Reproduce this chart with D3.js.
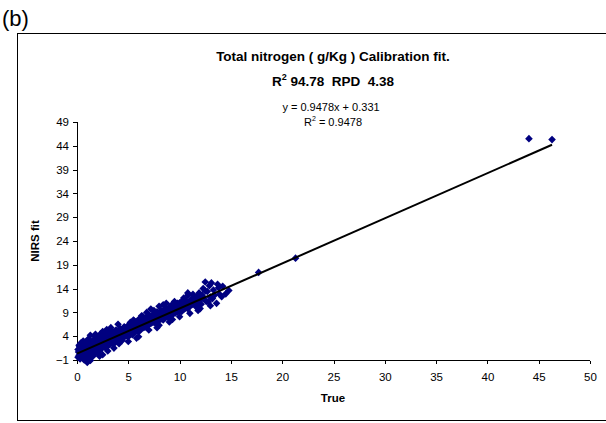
<!DOCTYPE html>
<html>
<head>
<meta charset="utf-8">
<script src="https://cdn.jsdelivr.net/npm/d3@7"></script>
<style>
  html, body { margin: 0; padding: 0; background: #fff; }
  svg { display: block; font-family: "Liberation Sans", Arial, sans-serif; }
  text { white-space: pre; }
</style>
</head>
<body>
<svg id="chart" width="606" height="423"></svg>
<script>
// Total nitrogen (g/Kg): reference values vs. NIRS calibration predictions
const trueVals = [
  0.1,0.1,0.2,0.2,0.3,0.3,0.4,0.4,0.5,0.5,0.6,0.6,0.7,0.7,0.8,0.8,0.9,0.9,1.0,1.0,
  1.1,1.1,1.2,1.2,1.3,1.3,1.4,1.4,1.5,1.5,1.6,1.6,1.7,1.7,1.8,1.8,1.9,1.9,2.0,2.0,
  2.1,2.1,2.2,2.2,2.3,2.3,2.4,2.4,2.5,2.5,2.6,2.6,2.7,2.7,2.8,2.8,2.9,2.9,3.0,3.0,
  3.1,3.2,3.2,3.3,3.4,3.4,3.5,3.6,3.6,3.7,3.8,3.8,3.9,4.0,4.0,4.1,4.2,4.2,4.3,4.4,
  4.4,4.5,4.6,4.6,4.7,4.8,4.8,4.9,5.0,5.0,5.1,5.2,5.2,5.3,5.4,5.4,5.5,5.6,5.6,5.7,
  5.8,5.8,5.9,6.0,6.0,6.1,6.2,6.2,6.3,6.4,6.4,6.5,6.6,6.6,6.7,6.8,6.8,6.9,7.0,7.0,
  7.1,7.2,7.2,7.3,7.4,7.4,7.5,7.6,7.6,7.7,7.8,7.8,7.9,8.0,8.0,8.1,8.2,8.2,8.3,8.4,
  8.4,8.5,8.6,8.6,8.7,8.8,8.8,8.9,9.0,9.0,9.1,9.2,9.2,9.3,9.4,9.4,9.5,9.6,9.6,9.7,
  9.8,9.8,9.9,10.0,10.0,10.1,10.2,10.2,10.3,10.4,10.5,10.6,10.6,10.7,10.8,10.8,10.9,11.0,11.1,11.2,
  11.3,11.4,11.5,11.6,11.7,11.8,11.9,12.0,12.1,12.2,12.3,12.4,12.5,12.6,12.7,12.8,12.9,13.0,13.1,13.2,
  13.3,13.4,13.6,13.7,13.8,13.9,14.1,14.2,14.5,14.8,
  0.15,0.25,0.35,0.45,0.55,0.65,0.75,0.85,0.95,1.05,1.15,1.25,1.35,1.45,1.55,1.65,1.75,1.85,1.95,2.05,
  2.15,2.35,2.45,2.65,2.85,3.05,3.15,3.35,3.55,3.75,3.95,4.15,4.35,4.55,4.75,4.95,5.15,5.35,5.55,5.75,
  5.95,6.15,6.35,6.55,6.75,6.95,7.15,7.35,7.55,7.75,7.95,8.15,8.35,8.55,8.75,8.95,9.15,9.35,9.55,9.75,
  9.95,10.15,10.35,10.55,10.75,11.05,11.25,11.45,11.65,11.95,
  1.0,1.3,2.2,3.0,3.3,4.1,5.0,5.5,6.0,6.3,7.0,7.5,8.0,8.7,9.0,9.5,10.0,10.4,11.0,11.3,
  12.0,12.5,2.5,3.6,5.8,6.8,7.8,8.4,9.3,10.8,11.8,13.0,1.8,2.9,
  17.7,21.3,44.05,46.3
];
const nirsVals = [
  1.2,-0.4,2.1,0.0,1.6,-0.8,0.9,2.6,-0.2,1.4,3.0,0.5,-1.0,2.2,1.0,-0.5,2.8,0.2,1.7,-1.3,
  0.6,3.4,-0.7,2.0,1.1,4.2,0.0,2.6,1.5,-0.3,3.1,0.8,2.2,4.0,0.4,1.9,3.3,1.0,2.5,0.6,
  3.8,1.6,2.9,0.9,2.1,4.5,1.4,3.4,2.3,5.0,1.8,3.0,4.1,2.1,1.5,3.6,2.7,4.9,2.0,3.9,
  3.0,2.2,4.4,3.4,2.6,5.1,3.7,2.4,4.6,3.3,5.3,2.9,4.0,3.2,6.5,4.8,3.5,5.6,4.3,3.1,
  5.0,4.6,3.8,6.0,5.2,4.1,5.8,4.7,3.9,6.3,5.4,4.4,6.9,5.0,6.1,4.3,5.7,4.8,7.2,6.0,
  5.1,6.6,5.6,4.9,7.5,6.2,5.4,7.0,6.6,5.7,8.2,6.4,5.9,7.6,6.9,6.1,8.0,7.3,6.4,8.5,
  7.1,9.7,6.7,7.8,6.9,8.6,7.4,6.8,8.3,7.7,7.0,9.1,8.0,10.3,7.3,8.6,7.6,9.4,8.2,7.4,
  9.0,8.5,7.9,9.8,8.8,8.1,9.5,9.1,8.0,10.1,9.3,8.4,10.5,9.6,8.7,10.2,9.2,10.8,8.9,9.8,
  9.1,10.9,10.2,9.3,11.0,10.0,9.2,11.3,10.5,9.6,10.8,9.9,11.6,10.4,12.6,9.8,11.1,10.3,11.7,10.6,
  12.0,10.9,11.4,10.2,12.3,11.0,13.1,11.5,10.7,12.6,14.0,11.8,15.4,11.3,13.4,11.2,14.6,12.2,15.2,11.9,
  13.7,12.6,10.9,14.9,14.2,12.8,12.3,14.5,12.9,13.6,
  0.7,1.9,-0.1,2.4,0.3,1.2,2.7,-0.2,1.3,2.4,0.1,1.6,3.0,0.7,2.1,1.2,3.2,1.4,2.2,1.1,
  2.6,3.0,1.9,2.6,2.4,3.3,2.6,4.0,3.1,4.2,3.6,4.2,5.3,4.0,4.6,5.5,4.8,5.6,6.3,5.4,
  6.4,5.8,7.2,6.9,6.5,7.7,7.5,7.2,8.0,8.4,7.6,8.0,8.9,8.2,9.2,8.6,9.0,9.9,9.5,10.4,
  9.7,10.5,9.9,11.2,11.0,11.4,11.0,12.0,11.3,12.0,
  -1.5,-1.1,-0.2,0.9,5.8,2.4,2.9,7.4,3.9,8.3,5.3,9.4,6.3,10.9,7.0,11.3,8.1,12.0,8.8,12.8,
  9.8,13.5,0.1,1.5,3.6,9.0,5.8,10.6,7.5,13.1,9.4,10.4,4.4,5.4,
  17.4,20.4,45.5,45.3
];

// Fitted calibration line
const slope = 0.9478;
const intercept = 0.331;
const rSquared = 0.9478;

// Axis ticks
const xTicks = [0, 5, 10, 15, 20, 25, 30, 35, 40, 45, 50];
const yTicks = [-1, 4, 9, 14, 19, 24, 29, 34, 39, 44, 49];

const svg = d3.select("#chart");

const x = d3.scaleLinear().domain([0, 50]).range([77, 590]);
const y = d3.scaleLinear().domain([-1, 49]).range([360, 122]);

// Panel label
svg.append("text").attr("x", 2).attr("y", 26)
  .attr("font-size", 22).attr("fill", "#000").text("(b)");

// Chart frame
svg.append("rect")
  .attr("x", 17.5).attr("y", 33.5)
  .attr("width", 620).attr("height", 387)
  .attr("fill", "none").attr("stroke", "#000").attr("stroke-width", 1);

// Titles
svg.append("text").attr("x", 333).attr("y", 61)
  .attr("text-anchor", "middle").attr("font-size", 13.5).attr("font-weight", "bold")
  .text("Total nitrogen ( g/Kg ) Calibration fit.");

const sub = svg.append("text").attr("x", 333).attr("y", 86)
  .attr("text-anchor", "middle").attr("font-size", 13.5).attr("font-weight", "bold");
sub.append("tspan").text("R");
sub.append("tspan").attr("dy", -6).attr("font-size", 9).text("2");
sub.append("tspan").attr("dy", 6).text(" 94.78  RPD  4.38");

svg.append("text").attr("x", 331).attr("y", 111)
  .attr("text-anchor", "middle").attr("font-size", 11)
  .text(`y = ${slope}x + ${intercept}`);

const r2 = svg.append("text").attr("x", 333).attr("y", 126)
  .attr("text-anchor", "middle").attr("font-size", 11);
r2.append("tspan").text("R");
r2.append("tspan").attr("dy", -5).attr("font-size", 7).text("2");
r2.append("tspan").attr("dy", 5).text(` = ${rSquared}`);

// Axes
const xAxis = d3.axisBottom(x).tickValues(xTicks).tickSize(4).tickPadding(9);
const yAxis = d3.axisLeft(y).tickValues(yTicks).tickSize(4).tickPadding(4);

const gx = svg.append("g").attr("transform", `translate(0,${y(-1)})`).call(xAxis);
const gy = svg.append("g").attr("transform", `translate(${x(0)},0)`).call(yAxis);
[gx, gy].forEach(g => {
  g.select(".domain").attr("stroke", "#000").attr("shape-rendering", "crispEdges");
  g.selectAll(".tick line").attr("stroke", "#000").attr("shape-rendering", "crispEdges");
  g.selectAll(".tick text").attr("font-size", 11.5).attr("fill", "#000")
    .attr("font-family", "Liberation Sans, Arial, sans-serif");
});
gx.select(".domain").attr("d", `M${x(0)},0.5H${x(50)}`);
gx.selectAll(".tick line").attr("y1", 0.5);
gy.select(".domain").attr("d", `M0.5,${y(49)}V${y(-1)}`);

// Axis titles
svg.append("text").attr("x", 333).attr("y", 402)
  .attr("text-anchor", "middle").attr("font-size", 11.5).attr("font-weight", "bold")
  .text("True");
svg.append("text")
  .attr("transform", `translate(39,${(y(-1) + y(49)) / 2}) rotate(-90)`)
  .attr("text-anchor", "middle").attr("font-size", 11.5).attr("font-weight", "bold")
  .text("NIRS fit");

// Data points as diamonds
const pts = trueVals.map((t, i) => [t, nirsVals[i]]);
const r = 3.8;
svg.append("g").selectAll("path").data(pts).join("path")
  .attr("d", d => `M${x(d[0])},${y(d[1]) - r}L${x(d[0]) + r},${y(d[1])}L${x(d[0])},${y(d[1]) + r}L${x(d[0]) - r},${y(d[1])}Z`)
  .attr("fill", "#000080");

// Trendline across the range of observed values
const xMax = d3.max(trueVals);
svg.append("line")
  .attr("x1", x(0)).attr("y1", y(intercept))
  .attr("x2", x(xMax)).attr("y2", y(slope * xMax + intercept))
  .attr("stroke", "#000").attr("stroke-width", 2);
</script>
</body>
</html>
